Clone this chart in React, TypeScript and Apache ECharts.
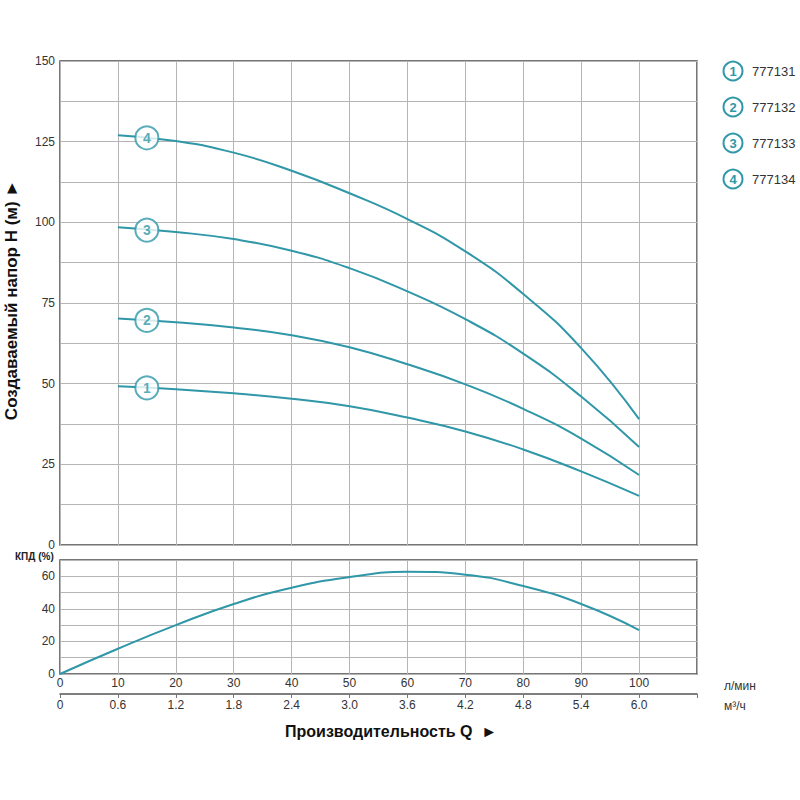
import React, { useEffect, useRef } from "react";
import * as echarts from "echarts";

const TEAL = "#2f97a7";
const GRIDC = "#b5b5b5";
const BORDER = "#4a4a4a";
const FONT = "Liberation Sans, Arial, sans-serif";

// Head curves (Q in l/min, H in m)
const curve1: [number, number][] = [[10, 49.2], [20, 48.3], [30, 47], [40, 45.3], [50, 43], [60, 39.5], [70, 35.2], [80, 29.6], [90, 22.8], [100, 15.2]];
const curve2: [number, number][] = [[10, 70.2], [20, 69], [30, 67.4], [40, 65], [50, 61.3], [60, 56], [70, 49.8], [80, 42.2], [90, 33], [100, 21.7]];
const curve3: [number, number][] = [[10, 98.5], [20, 97], [30, 94.8], [40, 91.2], [50, 85.8], [60, 78.6], [70, 70], [80, 59.3], [90, 46], [100, 30.4]];
const curve4: [number, number][] = [[10, 127], [20, 125.2], [30, 121.6], [40, 116], [50, 109], [60, 101], [70, 91], [80, 77.8], [90, 61], [100, 39]];
const headCurves = [curve1, curve2, curve3, curve4];
const markerValues: [number, number][] = [[15, 48.7], [15, 69.6], [15, 97.6], [15, 126.2]];
const curveNames = ["1", "2", "3", "4"];
const models = ["777131", "777132", "777133", "777134"];

// Efficiency (%)
const efficiency: [number, number][] = [[0, 0], [10, 15.5], [20, 30], [30, 43], [40, 53], [50, 59.5], [60, 62.8], [70, 61], [80, 54], [90, 43], [100, 27]];

const qLabelsLmin = [0, 10, 20, 30, 40, 50, 60, 70, 80, 90, 100];
const hLabels = [0, 25, 50, 75, 100, 125, 150];
const effLabels = [0, 20, 40, 60];

export default function App() {
  const ref = useRef<HTMLDivElement>(null);
  useEffect(() => {
    const chart = echarts.init(ref.current!, null, { renderer: "svg" });
    const axisLabelStyle = { color: "#333", fontSize: 12, fontFamily: FONT };
    const series: any[] = [];
    headCurves.forEach((c, i) => {
      series.push({
        type: "line", xAxisIndex: 0, yAxisIndex: 0, data: c, smooth: true, showSymbol: false,
        lineStyle: { color: TEAL, width: 2 }, z: 3,
      });
      series.push({
        type: "scatter", xAxisIndex: 0, yAxisIndex: 0, data: [markerValues[i]], symbol: "circle", symbolSize: 23,
        itemStyle: { color: "#fff", borderColor: TEAL, borderWidth: 2 }, z: 5,
        label: { show: true, position: "inside", formatter: curveNames[i], color: TEAL, fontWeight: "bold", fontSize: 14, fontFamily: FONT },
      });
    });
    series.push({
      type: "line", xAxisIndex: 1, yAxisIndex: 1, data: efficiency, smooth: true, showSymbol: false,
      lineStyle: { color: TEAL, width: 2 }, z: 3,
    });

    const legendGraphics: any[] = [];
    models.forEach((m, i) => {
      const cy = 71 + i * 36;
      legendGraphics.push({ type: "circle", shape: { cx: 733, cy, r: 9.5 }, style: { fill: "#fff", stroke: TEAL, lineWidth: 2 } });
      legendGraphics.push({ type: "text", x: 733, y: cy, style: { text: curveNames[i], fill: TEAL, font: `bold 13px ${FONT}`, align: "center", verticalAlign: "middle" } });
      legendGraphics.push({ type: "text", x: 752, y: cy, style: { text: m, fill: "#333", font: `13px ${FONT}`, align: "left", verticalAlign: "middle" } });
    });

    chart.setOption({
      animation: false,
      grid: [
        { left: 60, top: 61, width: 637, height: 484, show: true, borderColor: BORDER, borderWidth: 1.5, backgroundColor: "transparent" },
        { left: 60, top: 560, width: 637, height: 114, show: true, borderColor: BORDER, borderWidth: 1.5, backgroundColor: "transparent" },
      ],
      xAxis: [
        {
          type: "value", gridIndex: 0, min: 0, max: 110, interval: 10,
          axisLine: { show: false }, axisTick: { show: false }, axisLabel: { show: false },
          splitLine: { show: true, lineStyle: { color: GRIDC, width: 1 } },
        },
        {
          type: "value", gridIndex: 1, min: 0, max: 110, interval: 10,
          axisLine: { show: false }, axisTick: { show: false },
          axisLabel: { ...axisLabelStyle, margin: 3, formatter: (v: number) => (qLabelsLmin.includes(v) ? String(v) : "") },
          splitLine: { show: true, lineStyle: { color: GRIDC, width: 1 } },
        },
        {
          type: "value", gridIndex: 1, min: 0, max: 110, interval: 10, position: "bottom", offset: 20,
          axisLine: { show: true, lineStyle: { color: "#555", width: 1.5 } },
          axisTick: { show: true, length: 4, lineStyle: { color: "#777", width: 1 } },
          axisLabel: { ...axisLabelStyle, margin: 5, formatter: (v: number) => (v === 0 ? "0" : v <= 100 ? (v * 0.06).toFixed(1) : "") },
          splitLine: { show: false },
        },
      ],
      yAxis: [
        {
          type: "value", gridIndex: 0, min: 0, max: 150, interval: 12.5,
          axisLine: { show: false }, axisTick: { show: false },
          axisLabel: { ...axisLabelStyle, margin: 5, formatter: (v: number) => (hLabels.includes(v) ? String(v) : "") },
          splitLine: { show: true, lineStyle: { color: GRIDC, width: 1 } },
        },
        {
          type: "value", gridIndex: 1, min: 0, max: 70, interval: 10,
          axisLine: { show: false }, axisTick: { show: false },
          axisLabel: { ...axisLabelStyle, margin: 5, formatter: (v: number) => (effLabels.includes(v) ? String(v) : "") },
          splitLine: { show: true, lineStyle: { color: GRIDC, width: 1 } },
        },
      ],
      series,
      graphic: [
        ...legendGraphics,
        { type: "text", x: 724, y: 686, style: { text: "л/мин", fill: "#333", font: `12px ${FONT}`, verticalAlign: "middle" } },
        { type: "text", x: 724, y: 706, style: { text: "м³/ч", fill: "#333", font: `12px ${FONT}`, verticalAlign: "middle" } },
        { type: "text", x: 285, y: 731, style: { text: "Производительность Q  ►", fill: "#111", font: `bold 16px ${FONT}`, verticalAlign: "middle" } },
        { type: "text", x: 15, y: 556, style: { text: "КПД (%)", fill: "#222", font: `bold 10px ${FONT}`, verticalAlign: "middle" } },
        {
          type: "text", x: 11, y: 300, rotation: Math.PI / 2,
          style: { text: "Создаваемый напор H (м) ►", fill: "#111", font: `bold 17px ${FONT}`, align: "center", verticalAlign: "middle" },
        },
      ],
    });
    return () => chart.dispose();
  }, []);
  return <div ref={ref} style={{ position: "fixed", left: 0, top: 0, width: 800, height: 800, background: "#fff" }} />;
}
